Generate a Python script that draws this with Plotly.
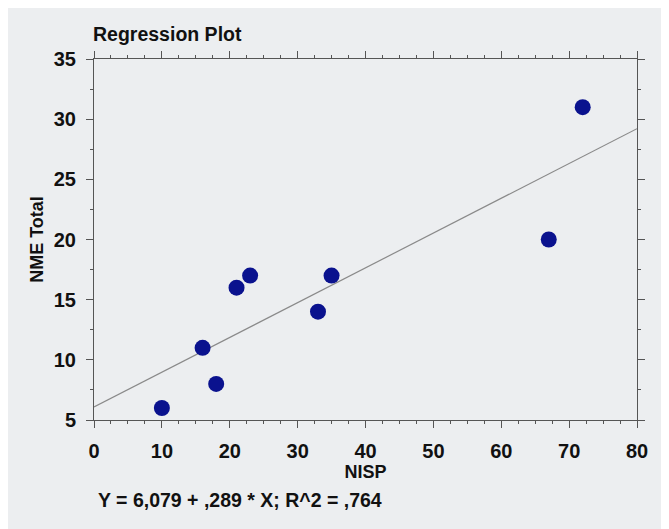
import numpy as np
import plotly.graph_objects as go

nisp = [10, 16, 18, 21, 23, 33, 35, 67, 72]
nme_total = [6, 11, 8, 16, 17, 14, 17, 20, 31]
x_ticks = [0, 10, 20, 30, 40, 50, 60, 70, 80]
y_ticks = [5, 10, 15, 20, 25, 30, 35]

slope, intercept = np.polyfit(nisp, nme_total, 1)
r2 = np.corrcoef(nisp, nme_total)[0, 1] ** 2
line_x = [x_ticks[0], x_ticks[-1]]
line_y = [intercept + slope * v for v in line_x]

bg = "#eceef0"
font = "Liberation Sans, Arial, sans-serif"

# page body has an 8px offset; plot box target on screen: x 94..637, y 59..420
W, H = 669, 529
L, T = 86, 51
R = W - (637 - 8)
B = H - (420 - 8)
PW = W - L - R
PH = H - T - B

fig = go.Figure()
fig.add_trace(go.Scatter(x=line_x, y=line_y, mode="lines",
                         line=dict(color="#8a8a8a", width=1.2), hoverinfo="skip"))
fig.add_trace(go.Scatter(x=nisp, y=nme_total, mode="markers",
                         marker=dict(color="#0a128e", size=16, line=dict(width=0))))

axis_common = dict(showgrid=False, zeroline=False, showline=True, linecolor="#555",
                   linewidth=1, mirror="ticks", ticks="outside", ticklen=7,
                   tickcolor="#555", tickwidth=1, ticklabelstandoff=6,
                   tickfont=dict(family=font, size=20, color="#111"))

def fmt(v):
    s = f"{v:.3f}"
    if s.startswith("0"):
        s = s[1:]
    return s.replace(".", ",")

fig.update_layout(
    width=W, height=H,
    paper_bgcolor=bg, plot_bgcolor=bg,
    showlegend=False,
    margin=dict(l=L, r=R, t=T, b=B, autoexpand=False),
    font=dict(family=font, color="#111"),
    title=dict(text="<b>Regression Plot</b>", x=(93 - 8) / W, xanchor="left",
               y=1 - (34 - 8) / H, yanchor="middle",
               font=dict(family=font, size=19.5, color="#111")),
    xaxis=dict(range=[0, 80], tickvals=x_ticks, ticktext=[f"<b>{v}</b>" for v in x_ticks],
               minor=dict(dtick=2.5, ticklen=3, tickcolor="#555", ticks="outside"),
               title=dict(text="<b>NISP</b>", font=dict(family=font, size=18, color="#111"),
                          standoff=3),
               **axis_common),
    yaxis=dict(range=[5, 35], tickvals=y_ticks, ticktext=[f"<b>{v}</b>" for v in y_ticks],
               minor=dict(dtick=2.5, ticklen=3, tickcolor="#555", ticks="outside"),
               title=dict(text="<b>NME Total</b>", font=dict(family=font, size=18, color="#111"),
                          standoff=5),
               **axis_common),
    annotations=[dict(
        text=f"<b>Y = {fmt(intercept)} + {fmt(slope)} * X; R^2 = {fmt(r2)}</b>",
        xref="paper", yref="paper", x=(96 - 94) / PW, y=-(500 - 420) / PH,
        xanchor="left", yanchor="middle", showarrow=False,
        font=dict(family=font, size=19.5, color="#111"))],
)

fig.write_html("out.html")
